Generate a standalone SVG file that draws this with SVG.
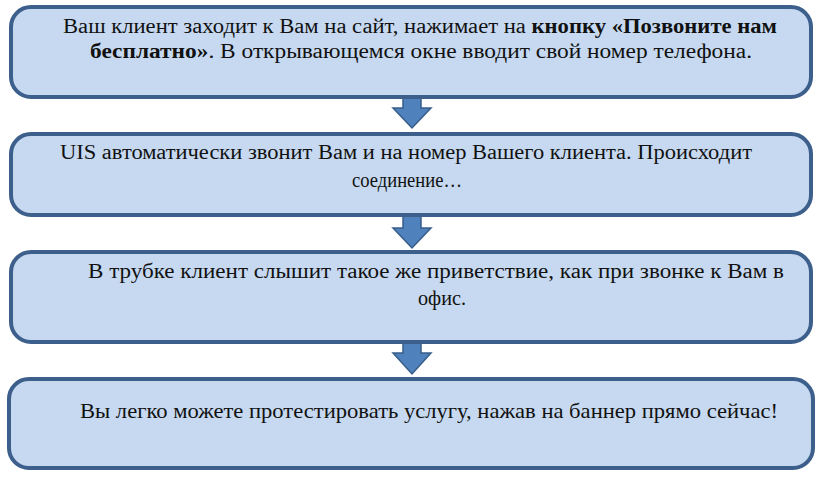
<svg xmlns="http://www.w3.org/2000/svg" width="823" height="478" viewBox="0 0 823 478">
<defs>
<style>
.box{fill:#c6d9f0;stroke:#3d5f8c;stroke-width:4}
.t{font-family:"Liberation Serif","Times New Roman",serif;font-size:20px;fill:#111}
.b{font-weight:bold}
.arr{fill:#4f81bd;stroke:#385d8a;stroke-width:1.5}
</style>
</defs>
<rect width="823" height="478" fill="#ffffff"/>
<g id="connectors">
<path class="arr" d="M403,94 H421 V108 H431 L412,128 L393,108 H403 Z"/>
<path class="arr" d="M403,213 H421 V228 H431 L412,248 L393,228 H403 Z"/>
<path class="arr" d="M403,338 H421 V353 H431 L412,374 L393,353 H403 Z"/>
</g>
<g id="node1">
<rect class="box" x="11" y="7" width="800" height="90" rx="20"/>
<text class="t" x="63" y="33" textLength="714" lengthAdjust="spacingAndGlyphs">Ваш клиент заходит к Вам на сайт, нажимает на <tspan class="b">кнопку «Позвоните нам</tspan></text>
<text class="t" x="90" y="58" textLength="662" lengthAdjust="spacingAndGlyphs"><tspan class="b">бесплатно»</tspan>. В открывающемся окне вводит свой номер телефона.</text>
</g>
<g id="node2">
<rect class="box" x="11" y="134" width="800" height="81" rx="20"/>
<text class="t" x="60" y="159" textLength="692" lengthAdjust="spacingAndGlyphs">UIS автоматически звонит Вам и на номер Вашего клиента. Происходит</text>
<text class="t" x="352" y="187" textLength="110" lengthAdjust="spacingAndGlyphs" style="font-size:21px">соединение…</text>
</g>
<g id="node3">
<rect class="box" x="11" y="252" width="800" height="90" rx="20"/>
<text class="t" x="88" y="278" textLength="696" lengthAdjust="spacingAndGlyphs">В трубке клиент слышит такое же приветствие, как при звонке к Вам в</text>
<text class="t" x="418" y="305" textLength="48" lengthAdjust="spacingAndGlyphs">офис.</text>
</g>
<g id="node4">
<rect class="box" x="9" y="379" width="804" height="89" rx="20"/>
<text class="t" x="80" y="418" textLength="698" lengthAdjust="spacingAndGlyphs" style="font-size:22px">Вы легко можете протестировать услугу, нажав на баннер прямо сейчас!</text>
</g>
</svg>
